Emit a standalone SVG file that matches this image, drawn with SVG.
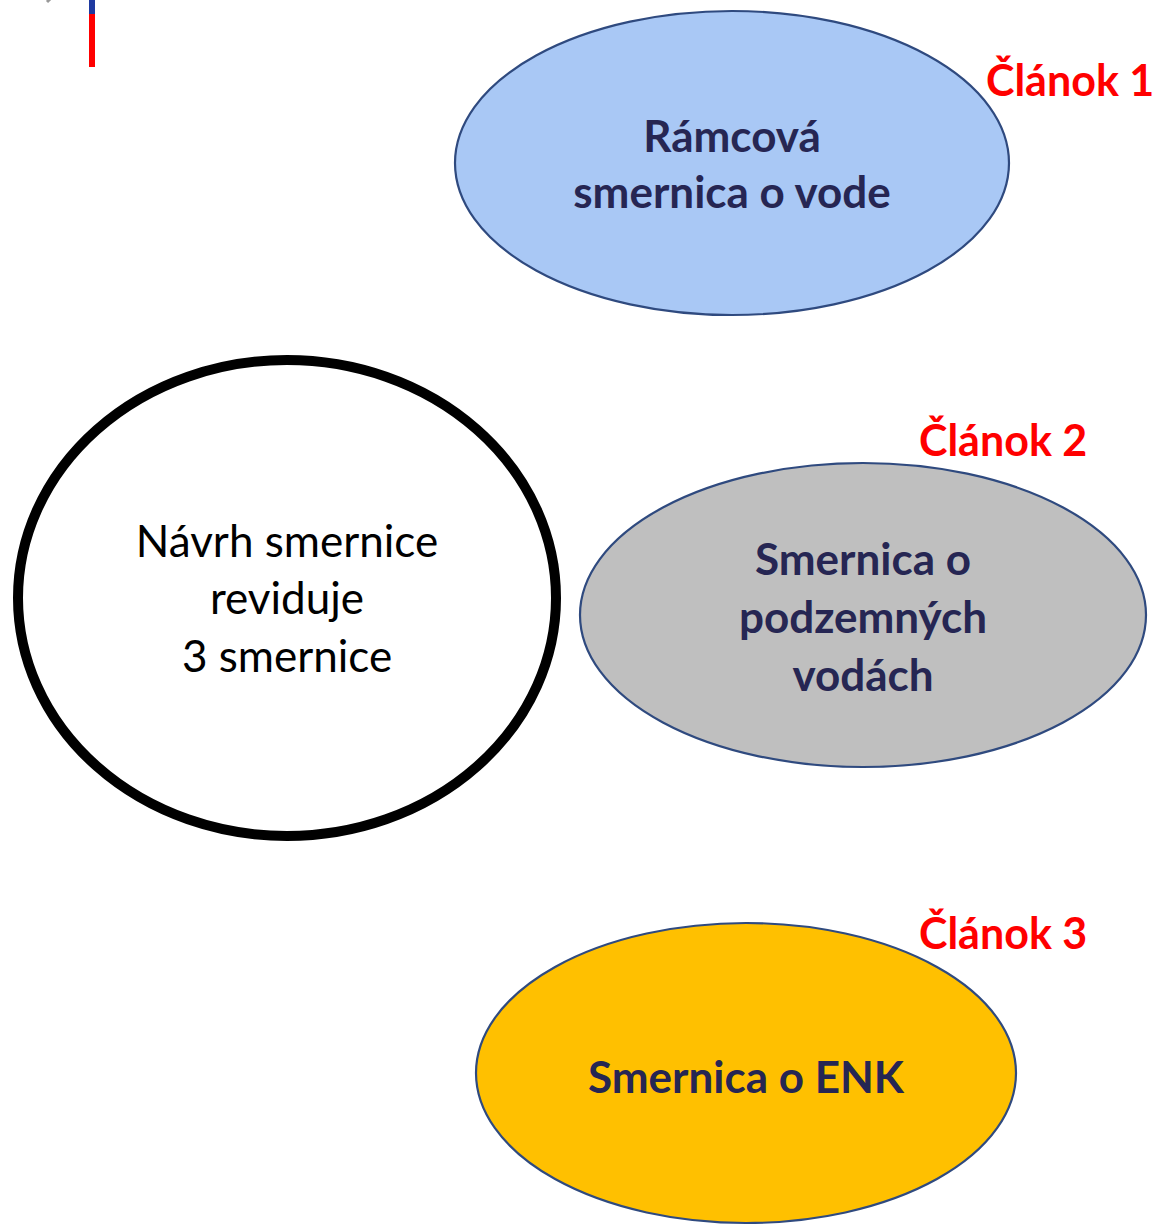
<svg xmlns="http://www.w3.org/2000/svg" width="1158" height="1225" viewBox="0 0 1158 1225">
<style>
.t{font-family:Lato,"Open Sans","Liberation Sans",sans-serif;font-size:44px;font-weight:bold;fill:#262653;text-anchor:middle}
.n{font-family:Lato,"Open Sans","Liberation Sans",sans-serif;font-size:44px;fill:#000;text-anchor:middle}
.c{font-family:Lato,"Open Sans","Liberation Sans",sans-serif;font-size:43px;font-weight:bold;fill:#ff0000}
.e{stroke:#2f4a7f;stroke-width:2.2}
</style>
<rect width="1158" height="1225" fill="#fff"/>
<g id="decor">
<line x1="47" y1="2" x2="51" y2="-2" stroke="#999" stroke-width="3"/>
<rect x="89" y="0" width="6" height="14" fill="#1f3aa0"/>
<rect x="89" y="14" width="6" height="53" fill="#ff0000"/>
</g>
<g id="n-ramcova">
<ellipse class="e" cx="732" cy="163" rx="277" ry="152" fill="#a9c8f5"/>
<text class="t" x="732" y="152">Rámcová</text>
<text class="t" x="732" y="208">smernica o vode</text>
</g>
<g id="n-navrh">
<ellipse cx="287" cy="598" rx="269" ry="238" fill="#fff" stroke="#000" stroke-width="10"/>
<text class="n" x="287" y="557">Návrh smernice</text>
<text class="n" x="287" y="614">reviduje</text>
<text class="n" x="287" y="672">3 smernice</text>
</g>
<g id="n-podzemne">
<ellipse class="e" cx="863" cy="615" rx="283" ry="152" fill="#bfbfbf"/>
<text class="t" x="863" y="575">Smernica o</text>
<text class="t" x="863" y="633">podzemných</text>
<text class="t" x="863" y="691">vodách</text>
</g>
<g id="n-enk">
<ellipse class="e" cx="746" cy="1073" rx="270" ry="150" fill="#ffc000"/>
<text class="t" x="746" y="1093">Smernica o ENK</text>
</g>
<g id="labels">
<text class="c" x="986" y="96">Článok 1</text>
<text class="c" x="919" y="456">Článok 2</text>
<text class="c" x="919" y="949">Článok 3</text>
</g>
<g id="connectors"></g>
</svg>
